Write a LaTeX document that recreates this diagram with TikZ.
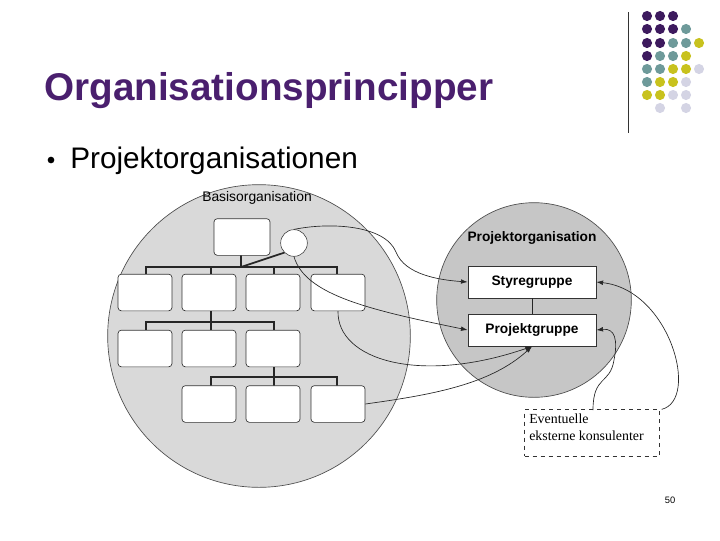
\documentclass[tikz,border=0pt]{standalone}
\usepackage{fontspec}
\setmainfont{Liberation Sans}
\newfontfamily\serifb{Liberation Serif}
\usetikzlibrary{arrows.meta}
\definecolor{tpurple}{HTML}{4A1F6E}
\definecolor{dP}{HTML}{3D1A5E}
\definecolor{dT}{HTML}{6E9A9A}
\definecolor{dY}{HTML}{C8C21E}
\definecolor{dL}{HTML}{D4D4E4}
\definecolor{cgray}{HTML}{D9D9D9}
\definecolor{pgray}{HTML}{C6C6C6}
\tikzset{
 obox/.style={draw=black!80,fill=white,rounded corners=2.5pt,minimum width=40.5pt,minimum height=27.5pt,inner sep=0pt,line width=0.5pt},
 gbox/.style={draw=black!80,fill=white,minimum width=96pt,minimum height=24pt,inner sep=0pt,font=\bfseries\fontsize{10.3}{12}\selectfont,line width=0.6pt},
 bus/.style={line width=1.8pt,black!85},
 conn/.style={black!85,line width=0.5pt,-{Latex[length=5pt,width=3.5pt]}},
 plain/.style={black!85,line width=0.5pt},
 dot/.style={circle,inner sep=0pt,minimum size=7.6pt}
}
\begin{document}
\begin{tikzpicture}[x=0.75pt,y=-0.75pt]
\useasboundingbox (0,0) rectangle (720,540);
% header
\draw[black!80,line width=0.6pt] (628,12) -- (628,133);
\foreach \r/\list in {16/{P,P,P},29/{P,P,P,T},43/{P,P,T,T,Y},56/{P,T,T,Y},69/{T,T,Y,Y,L},82/{T,Y,Y,L},95/{Y,Y,L,L}}{
 \foreach \c [count=\i from 0] in \list {
  \pgfmathsetmacro{\xx}{647+13*\i}
  \node[dot,fill=d\c] (d\r\i) at (\xx,\r) {};
 }}
\node[dot,fill=dL] (d108a) at (660,108) {};
\node[dot,fill=dL] (d108b) at (686,108) {};
\node[anchor=base west,text=tpurple,font=\bfseries\fontsize{29}{34}\selectfont,inner sep=0pt] (title) at (44,100) {Organisationsprincipper};
\node[circle,fill=black,inner sep=0pt,minimum size=5pt] (bul) at (51,160) {};
\node[anchor=base west,font=\fontsize{22.3}{26}\selectfont,inner sep=0pt] (sub) at (70,168) {Projektorganisationen};
% circles
\node[circle,draw=black!70,fill=cgray,minimum size=227pt,inner sep=0pt,line width=0.5pt] (basis) at (259,336) {};
\node[circle,draw=black!70,fill=pgray,minimum size=146pt,inner sep=0pt,line width=0.5pt] (proj) at (534,300) {};
\node[font=\fontsize{10.4}{12}\selectfont] (bl) at (257,198) {Basisorganisation};
\node[font=\bfseries\fontsize{10.3}{12}\selectfont] (pl) at (532,238) {Projektorganisation};
% org chart
\coordinate (s1) at (241,267);
\draw[bus] (241,255) -- (s1);
\draw[bus] (146,275) -- (146,267) -- (337,267) -- (337,275);
\foreach \x in {211,274} \draw[bus] (\x,267) -- (\x,275);
\draw[bus] (211,311) -- (211,322);
\draw[bus] (146,331) -- (146,322) -- (274,322) -- (274,331);
\draw[bus] (211,322) -- (211,331);
\draw[bus] (274,367) -- (274,377);
\draw[bus] (211,387) -- (211,377) -- (337,377) -- (337,387);
\draw[bus] (274,377) -- (274,387);
\node[obox,minimum width=42pt] (top) at (242,237) {};
\foreach \x [count=\i] in {145,209,273,338} \node[obox] (a\i) at (\x,292.5) {};
\foreach \x [count=\i] in {145,209,273} \node[obox] (b\i) at (\x,348.5) {};
\foreach \x [count=\i] in {209,273,338} \node[obox] (c\i) at (\x,404) {};
\node[circle,draw=black!80,fill=white,minimum size=20pt,inner sep=0pt] (sc) at (294,243) {};
\draw[line width=1.3pt,black!85] (sc.south west) -- (s1);
% project boxes
\node[gbox] (sty) at (532,282) {Styregruppe};
\node[gbox] (pg) at (532,330) {Projektgruppe};
\draw[plain] (sty.south) -- (pg.north);
\node[draw=black!80,dashed,fill=white,minimum width=101pt,minimum height=35pt,inner sep=3pt,line width=0.5pt] (ev) at (592,433) {};
\node[anchor=north west,align=left,font=\serifb\fontsize{10.4}{12.5}\selectfont,inner sep=0pt] (evt) at (529,414) {Eventuelle\\eksterne konsulenter};
% connectors
\draw[conn] (sc.north) .. controls (330,222) and (385,225) .. (396,252) .. controls (405,275) and (440,280) .. (sty.west);
\draw[conn] (sc.south) .. controls (305,295) and (370,310) .. (pg.west);
\draw[conn] (a4.south) .. controls (337,360) and (420,385) .. (pg.south);
\draw[conn] (c3.east) .. controls (430,395) and (490,385) .. (pg.south);
\draw[conn] (ev.north east) ++(2,0) coordinate (evr) .. controls (700,400) and (670,290) .. (sty.east);
\draw[conn] (593,410) .. controls (593,375) and (610,385) .. (614,360) .. controls (618,340) and (615,328) .. (pg.east);
\node[font=\fontsize{7}{8}\selectfont] (pn) at (670,500) {50};
\end{tikzpicture}
\end{document}
